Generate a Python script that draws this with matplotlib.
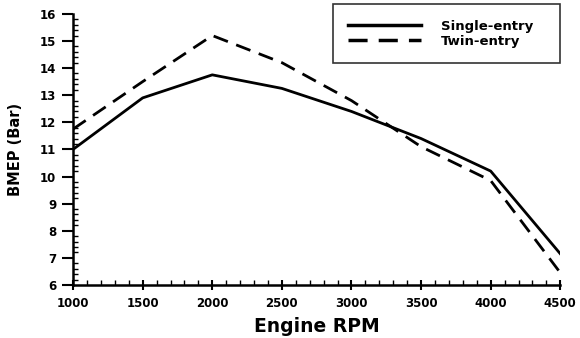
import matplotlib
matplotlib.use("Agg")
import matplotlib.pyplot as plt
from matplotlib.ticker import MultipleLocator

plt.rcParams['font.family'] = ['DejaVu Sans']
plt.rcParams['font.weight'] = 'bold'

rpm = [1000, 1500, 2000, 2500, 3000, 3500, 4000, 4500]
single_entry = [11.0, 12.9, 13.75, 13.25, 12.4, 11.4, 10.2, 7.15]
twin_entry = [11.75, 13.5, 15.2, 14.2, 12.8, 11.1, 9.85, 6.45]
xticks = [1000, 1500, 2000, 2500, 3000, 3500, 4000, 4500]
yticks = [6, 7, 8, 9, 10, 11, 12, 13, 14, 15, 16]

fig = plt.figure(figsize=(5.8, 3.38), dpi=100)
ax = fig.add_axes([0.126, 0.157, 0.840, 0.802])

ax.plot(rpm, single_entry, color='black', lw=2, label='Single-entry')
ax.plot(rpm, twin_entry, color='black', lw=2, dashes=(5.5, 3.2), label='Twin-entry')

ax.set_xlim(1000, 4500)
ax.set_ylim(6, 16)
ax.set_xticks(xticks)
ax.set_yticks(yticks)
ax.xaxis.set_minor_locator(MultipleLocator(100))
ax.yaxis.set_minor_locator(MultipleLocator(0.2))
ax.tick_params(which='major', labelsize=8.5, width=1.5)
ax.tick_params(axis='y', which='major', direction='out', length=8, pad=4)
ax.tick_params(axis='x', which='major', direction='inout', length=7, pad=5)
ax.tick_params(which='minor', direction='in', length=3.5, width=1)
for lab in ax.get_xticklabels() + ax.get_yticklabels():
    lab.set_fontweight('bold')

ax.spines['top'].set_visible(False)
ax.spines['right'].set_visible(False)
ax.spines['left'].set_linewidth(1.8)
ax.spines['bottom'].set_linewidth(1.8)

ax.set_xlabel('Engine RPM', fontsize=13.5, fontweight='bold', labelpad=5)
ax.set_ylabel('BMEP (Bar)', fontsize=10.5, fontweight='bold', labelpad=12)

leg = ax.legend(loc='upper left', bbox_to_anchor=(0.534, 0.841, 0.466, 0.194),
                mode='expand', borderaxespad=0, frameon=True, fancybox=False,
                edgecolor='black', fontsize=9.5, handlelength=5.5, borderpad=1.15,
                labelspacing=0.15, handletextpad=1.5)
leg.get_frame().set_linewidth(1.2)
for t in leg.get_texts():
    t.set_fontweight('bold')
for ln in leg.get_lines():
    ln.set_linewidth(2.5)

fig.savefig('out.png', dpi=100)
